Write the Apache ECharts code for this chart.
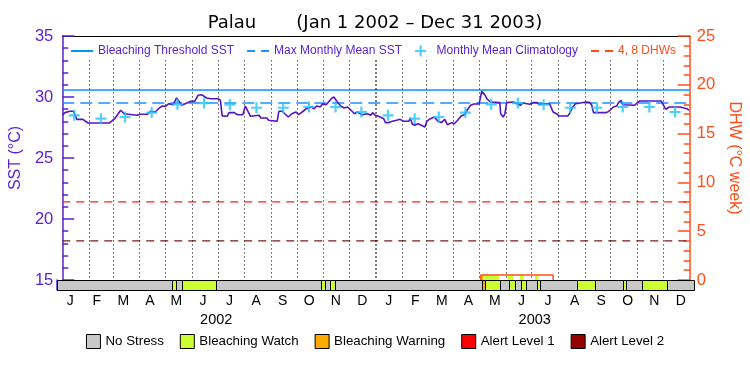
<!DOCTYPE html>
<html><head><meta charset="utf-8">
<script src="https://cdn.jsdelivr.net/npm/echarts@6/dist/echarts.min.js"></script>
<style>html,body{margin:0;padding:0;background:#fff}#c{width:750px;height:375px}</style>
</head><body><div id="c"></div>
<script>
// ---------------- data ----------------
const periodStart = '2002-01-01';
const periodEnd = '2004-01-01';
const sstDates = [
'2002-01-01','2002-01-04','2002-01-10','2002-01-14','2002-01-16','2002-01-18','2002-01-25','2002-01-27','2002-01-31','2002-02-25','2002-02-27','2002-03-03','2002-03-10','2002-03-14','2002-03-16','2002-03-29','2002-03-31','2002-04-02','2002-04-10','2002-04-14','2002-04-19','2002-04-23','2002-04-27','2002-05-01','2002-05-05','2002-05-10','2002-05-14','2002-05-16','2002-05-20','2002-05-24','2002-05-30','2002-06-04','2002-06-08','2002-06-12','2002-06-18','2002-06-23','2002-07-01','2002-07-04','2002-07-06','2002-07-12','2002-07-14','2002-07-20','2002-07-24','2002-07-30','2002-08-02','2002-08-04','2002-08-08','2002-08-18','2002-08-20','2002-08-27','2002-08-29','2002-08-31','2002-09-08','2002-09-10','2002-09-14','2002-09-17','2002-09-21','2002-09-25','2002-09-27','2002-09-30','2002-10-03','2002-10-07','2002-10-09','2002-10-12','2002-10-14','2002-10-18','2002-10-21','2002-10-24','2002-10-28','2002-10-31','2002-11-04','2002-11-10','2002-11-13','2002-11-17','2002-11-21','2002-11-25','2002-11-29','2002-12-03','2002-12-07','2002-12-10','2002-12-16','2002-12-22','2002-12-26','2002-12-28','2002-12-31',
'2003-01-04','2003-01-10','2003-01-12','2003-01-16','2003-01-20','2003-01-25','2003-01-29','2003-02-02','2003-02-08','2003-02-10','2003-02-12','2003-02-15','2003-02-19','2003-02-27','2003-03-01','2003-03-04','2003-03-06','2003-03-10','2003-03-14','2003-03-18','2003-03-22','2003-03-25','2003-03-30','2003-04-02','2003-04-06','2003-04-08','2003-04-10','2003-04-14','2003-04-17','2003-04-21','2003-04-25','2003-05-01','2003-05-03','2003-05-04','2003-05-08','2003-05-10','2003-05-14','2003-05-25','2003-05-26','2003-05-29','2003-05-31','2003-06-02','2003-06-10','2003-06-14','2003-06-18','2003-06-21','2003-06-29','2003-07-03','2003-07-07','2003-07-10','2003-07-14','2003-07-22','2003-07-24','2003-07-26','2003-07-30','2003-08-02','2003-08-12','2003-08-14','2003-08-18','2003-08-21','2003-08-23','2003-09-03','2003-09-07','2003-09-09','2003-09-11','2003-09-26','2003-09-29','2003-10-04','2003-10-08','2003-10-10','2003-10-13','2003-10-15','2003-10-29','2003-11-01','2003-11-04','2003-11-29','2003-11-30','2003-12-04','2003-12-08','2003-12-21','2003-12-25','2003-12-29','2003-12-31'];
const sstValues = [
28.50,28.72,28.83,28.83,28.77,28.17,28.17,28.09,27.87,27.87,27.95,28.22,28.91,28.63,28.50,28.50,28.42,28.58,28.58,28.83,28.77,29.04,29.26,29.23,29.45,29.37,29.92,30.08,29.32,29.45,29.64,29.64,30.14,30.19,29.92,29.86,29.86,29.74,28.45,28.42,28.72,28.72,28.55,28.55,29.26,29.32,28.42,28.50,28.28,28.28,28.09,28.01,28.01,28.83,28.83,28.63,28.36,28.63,28.77,28.77,28.55,28.77,28.63,29.04,28.91,29.18,29.04,29.26,29.18,29.45,29.37,29.86,30.00,29.59,29.26,29.10,29.18,28.91,28.63,28.77,28.55,28.63,28.50,28.72,28.50,
28.42,28.22,27.90,27.90,28.01,28.09,28.17,28.01,28.01,28.28,27.81,27.68,27.81,27.54,28.01,28.17,28.09,28.36,28.01,27.90,28.17,27.73,27.90,27.81,28.09,28.17,28.44,28.55,28.91,29.32,29.43,29.43,29.59,30.46,30.14,29.86,29.59,29.54,28.63,28.36,28.63,29.54,29.59,29.45,29.32,29.51,29.40,29.54,29.54,29.37,29.45,29.45,29.37,28.77,28.63,28.44,28.44,28.63,29.18,29.45,29.59,29.59,29.54,29.32,28.72,28.72,28.83,29.18,29.26,29.54,29.73,29.37,29.32,29.54,29.67,29.67,29.59,28.98,29.18,29.18,29.10,29.04,28.90];
const climYears = [2002, 2003];
const climValues = [28.50, 28.22, 28.36, 28.72, 29.40, 29.50, 29.37, 29.12, 29.12, 29.18, 29.18, 28.77];
const bleachingThreshold = 30.57;
const maxMonthlyMean = 29.51;
const dhwLevels = [8, 4];
const dhwDates = ['2003-05-03', '2003-05-03', '2003-07-26', '2003-07-26'];
const dhwValues = [0, 0.5, 0.5, 0];
const stressNames = ['No Stress', 'Bleaching Watch', 'Bleaching Warning', 'Alert Level 1', 'Alert Level 2'];
const stressStart = ['2002-01-01','2002-05-13','2002-05-24','2002-10-30','2002-11-10','2003-05-03','2003-05-06','2003-06-03','2003-06-17','2003-07-05','2003-08-20','2003-10-12','2003-11-02'];
const stressEnd   = ['2004-01-01','2002-05-17','2002-07-02','2002-11-04','2002-11-16','2003-05-06','2003-05-24','2003-06-10','2003-06-22','2003-07-09','2003-09-10','2003-10-15','2003-12-01'];
const stressLevel = [0,1,1,1,1,2,1,1,1,1,1,1,1];
const monthLetters = ['J','F','M','A','M','J','J','A','S','O','N','D'];
const yearLabels = ['2002', '2003'];

// ---------------- styling ----------------
const purple = '#5b22d1';
const orange = '#ff4d1a';
const threshColor = '#0096ff';
const mmmColor = '#1e90ff';
const stressColors = ['#c8c8c8', '#ccff33', '#ffaa00', '#ff0000', '#960000'];
const dhwColors = ['#ff1a1a', '#7a1a1a'];
const fontAx = 'Liberation Sans';
const solidIcon = 'path://M0,0h22v2h-22z';
const dashIcon = 'path://M0,0h8v2h-8zM14,0h8v2h-8z';

const T = s => { const p = s.split('-').map(Number); return Date.UTC(p[0], p[1] - 1, p[2]); };
const tMin = T(periodStart), tMax = T(periodEnd);
const sstData = sstDates.map((d, i) => [T(d), sstValues[i]]);
const climData = [];
climYears.forEach(y => climValues.forEach((v, i) => climData.push([T(y + '-' + String(i + 1).padStart(2, '0') + '-15'), v])));
const dhwData = dhwDates.map((d, i) => [T(d), dhwValues[i]]);
const dhwAt = t => {
  for (let i = 0; i < dhwData.length - 1; i++) {
    const a = dhwData[i], b = dhwData[i + 1];
    if (b[0] > a[0] && t >= a[0] && t <= b[0]) return a[1] + (b[1] - a[1]) * (t - a[0]) / (b[0] - a[0]);
  }
  return 0;
};
const stress = stressStart.map((s, i) => [T(s), T(stressEnd[i]), stressLevel[i]]);
const stressFill = stress.filter(s => s[2] > 0 && dhwAt((s[0] + s[1]) / 2) > 0)
  .map(s => [s[0], s[1], dhwAt((s[0] + s[1]) / 2), s[2]]);

const monthStarts = [];
yearLabels.forEach(y => { for (let m = 1; m <= 12; m++) { if (!(y === yearLabels[0] && m === 1)) monthStarts.push([T(y + '-' + String(m).padStart(2, '0') + '-01'), m === 1]); } });

const plusPath = 'path://M4,0h2v4h4v2h-4v4h-2v-4h-4v-2h4z';

function barItem(params, api) {
  const a = api.coord([api.value(0), 1]);
  const b = api.coord([api.value(1), 0]);
  return { type: 'rect',
    shape: { x: Math.round(a[0]) + 0.5, y: Math.round(a[1]) + 0.5, width: Math.round(b[0]) - Math.round(a[0]), height: Math.round(b[1]) - Math.round(a[1]) },
    style: { fill: api.visual('color'), stroke: '#000', lineWidth: 1 } };
}
function fillItem(params, api) {
  const a = api.coord([api.value(0), api.value(2)]);
  const b = api.coord([api.value(1), 0]);
  return { type: 'rect', shape: { x: a[0], y: a[1], width: b[0] - a[0], height: b[1] - a[1] },
    style: { fill: stressColors[api.value(3)] } };
}

const series = [
  { type: 'custom', xAxisIndex: 0, yAxisIndex: 1, renderItem: fillItem, data: stressFill, encode: { x: [0, 1], y: 2 }, z: 1, silent: true },
  { type: 'line', name: 'DHW', xAxisIndex: 0, yAxisIndex: 1, data: dhwData, symbol: 'none', lineStyle: { color: orange, width: 1.5 }, z: 4 },
];
dhwLevels.forEach((lv, i) => series.push({ type: 'line', name: '4, 8 DHWs', xAxisIndex: 0, yAxisIndex: 1, data: [[tMin, lv], [tMax, lv]], symbol: 'none', itemStyle: { color: dhwColors[i] }, lineStyle: { color: dhwColors[i], width: 1.2, type: [8, 6] }, z: 2 }));
series.push(
  { type: 'line', name: 'Max Monthly Mean SST', xAxisIndex: 0, yAxisIndex: 0, data: [[tMin, maxMonthlyMean], [tMax, maxMonthlyMean]], symbol: 'none', itemStyle: { color: mmmColor }, lineStyle: { color: mmmColor, width: 1.3, type: [12, 6] }, z: 2 },
  { type: 'line', name: 'Bleaching Threshold SST', xAxisIndex: 0, yAxisIndex: 0, data: [[tMin, bleachingThreshold], [tMax, bleachingThreshold]], symbol: 'none', itemStyle: { color: threshColor }, lineStyle: { color: threshColor, width: 1.5 }, z: 2 },
  { type: 'line', name: 'SST', xAxisIndex: 0, yAxisIndex: 0, data: sstData, symbol: 'none', lineStyle: { color: '#5515c0', width: 1.6 }, z: 5,
    markLine: { silent: true, symbol: 'none', animation: false, label: { show: false },
      data: monthStarts.map(m => [{ coord: [m[0], 33], lineStyle: { color: '#000', width: m[1] ? 2 : 1, type: [1, 3] } }, { coord: [m[0], 15] }]) } },
  { type: 'scatter', name: 'Monthly Mean Climatology', xAxisIndex: 0, yAxisIndex: 0, data: climData, symbol: plusPath, symbolSize: 11, itemStyle: { color: '#22c4ff' }, z: 6 }
);
stressNames.forEach((n, lvl) => series.push({ type: 'custom', name: n, xAxisIndex: 1, yAxisIndex: 2, renderItem: barItem,
  itemStyle: { color: stressColors[lvl], borderColor: '#000', borderWidth: 1 },
  data: stress.filter(s => s[2] === lvl), encode: { x: [0, 1], y: 2 }, z: lvl + 1 }));

const option = {
  animation: false,
  useUTC: true,
  backgroundColor: '#fff',
  title: { text: 'Palau       (Jan 1 2002 \u2013 Dec 31 2003)', left: 'center', top: 9,
    textStyle: { fontFamily: 'DejaVu Sans', fontSize: 18, fontWeight: 'normal', color: '#000' } },
  legend: [
    { top: 40, left: 66, itemWidth: 22, itemHeight: 11, itemGap: 13, selectedMode: false,
      textStyle: { fontFamily: fontAx, fontSize: 12, color: purple },
      data: [ { name: 'Bleaching Threshold SST', icon: solidIcon, itemStyle: { color: threshColor } },
        { name: 'Max Monthly Mean SST', icon: dashIcon, itemStyle: { color: mmmColor } },
        { name: 'Monthly Mean Climatology' },
        { name: '4, 8 DHWs', icon: dashIcon, itemStyle: { color: orange }, textStyle: { color: orange } } ] },
    { top: 329, left: 'center', icon: 'rect', itemWidth: 14, itemHeight: 14, itemGap: 16, selectedMode: false,
      itemStyle: { borderColor: '#000', borderWidth: 1 },
      textStyle: { fontFamily: fontAx, fontSize: 13.3, color: '#000' }, data: stressNames }
  ],
  grid: [ { left: 57, right: 56, top: 36, bottom: 95 }, { left: 57, right: 56, top: 280, height: 10 } ],
  xAxis: [
    { gridIndex: 0, type: 'time', min: tMin, max: tMax, position: 'top', axisLine: { show: true, onZero: false, lineStyle: { color: '#000', width: 1 } }, axisTick: { show: false }, axisLabel: { show: false }, splitLine: { show: false } },
    { gridIndex: 1, type: 'time', min: tMin, max: tMax, show: false },
    { gridIndex: 1, type: 'category', data: yearLabels.flatMap(() => monthLetters), position: 'bottom', boundaryGap: true,
      axisLine: { show: false }, axisTick: { show: false }, splitLine: { show: false },
      axisLabel: { interval: 0, margin: 4, fontFamily: fontAx, fontSize: 14, color: '#000' } },
    { gridIndex: 1, type: 'category', data: yearLabels, position: 'bottom', offset: 18, boundaryGap: true,
      axisLine: { show: false }, axisTick: { show: false }, splitLine: { show: false },
      axisLabel: { interval: 0, margin: 4, fontFamily: fontAx, fontSize: 14.5, color: '#000' } }
  ],
  yAxis: [
    { gridIndex: 0, type: 'value', min: 15, max: 35, interval: 5, position: 'left',
      name: 'SST (\u00b0C)', nameLocation: 'middle', nameGap: 32, nameTextStyle: { color: purple, fontSize: 16, fontFamily: fontAx },
      axisLine: { show: true, onZero: false, lineStyle: { color: purple, width: 1.5 } },
      axisTick: { show: true, inside: true, length: 12, lineStyle: { color: purple, width: 1.5 } },
      minorTick: { show: true, splitNumber: 5, length: 6, lineStyle: { color: purple, width: 1.5 } },
      axisLabel: { color: purple, fontSize: 16.5, fontFamily: fontAx, margin: 9 }, splitLine: { show: false } },
    { gridIndex: 0, type: 'value', min: 0, max: 25, interval: 5, position: 'right',
      name: 'DHW (\u00b0C week)', nameLocation: 'middle', nameGap: 30, nameRotate: -90, nameTextStyle: { color: orange, fontSize: 16, fontFamily: fontAx },
      axisLine: { show: true, onZero: false, lineStyle: { color: orange, width: 1.5 } },
      axisTick: { show: true, inside: true, length: 12, lineStyle: { color: orange, width: 1.5 } },
      minorTick: { show: true, splitNumber: 5, length: 6, lineStyle: { color: orange, width: 1.5 } },
      axisLabel: { color: orange, fontSize: 16.5, fontFamily: fontAx, margin: 7 }, splitLine: { show: false } },
    { gridIndex: 1, type: 'value', min: 0, max: 1, position: 'left',
      axisLine: { show: true, onZero: false, lineStyle: { color: purple, width: 1.5 } },
      axisTick: { show: false }, axisLabel: { show: false }, splitLine: { show: false } }
  ],
  series: series
};
const chart = echarts.init(document.getElementById('c'));
chart.setOption(option);
</script>
</body></html>
